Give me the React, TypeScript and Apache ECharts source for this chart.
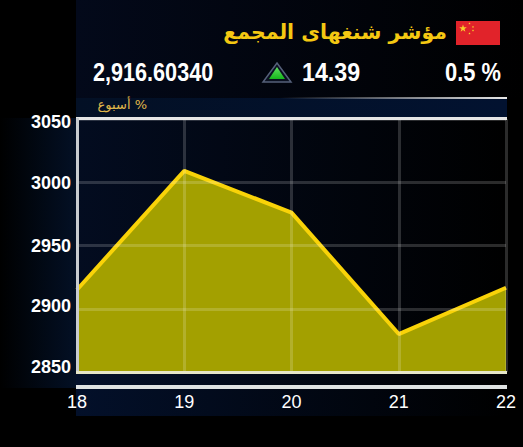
import React, { useEffect, useRef } from "react";
import * as echarts from "echarts";

const categories = ["18", "19", "20", "21", "22"];
const values = [2915, 3009, 2976, 2880, 2916.6];
const titleText = "مؤشر شنغهاى المجمع";
const weekText = "أسبوع %";
const priceText = "2,916.60340";
const changeText = "14.39";
const percentText = "0.5 %";

const NUM = '"Liberation Sans", sans-serif';
const AR = '"DejaVu Sans", sans-serif';

function star(cx: number, cy: number, r: number, rot = 0) {
  const points: number[][] = [];
  for (let i = 0; i < 10; i++) {
    const a = -Math.PI / 2 + rot + (i * Math.PI) / 5;
    const rr = i % 2 === 0 ? r : r * 0.4;
    points.push([cx + rr * Math.cos(a), cy + rr * Math.sin(a)]);
  }
  return { type: "polygon", shape: { points }, style: { fill: "#f7d02a" }, z: 3 };
}

export default function App() {
  const ref = useRef<HTMLDivElement>(null);
  useEffect(() => {
    const chart = echarts.init(ref.current!, null, { renderer: "svg" });
    const hGrad = (c0: string, c1: string) => ({
      type: "linear", x: 0, y: 0, x2: 1, y2: 0,
      colorStops: [{ offset: 0, color: c0 }, { offset: 1, color: c1 }],
    });
    const labelStyle = { color: "#ffffff", fontFamily: NUM, fontSize: 18 };
    const yLabelStyle = { ...labelStyle, fontWeight: "bold" };
    const bigText = (x: number, y: number, text: string, align: string, scaleX: number) => ({
      type: "text", z: 10, silent: true, x, y, scaleX,
      style: { x: 0, y: 0, text, align, verticalAlign: "middle", fill: "#ffffff", font: `bold 25px ${NUM}` },
    });
    chart.setOption({
      animation: false,
      backgroundColor: "#000000",
      grid: { left: 77, right: 17, top: 119, bottom: 75, containLabel: false },
      xAxis: {
        type: "category",
        data: categories,
        boundaryGap: false,
        z: 6,
        axisLine: { show: false },
        axisTick: { show: false },
        axisLabel: { ...labelStyle, margin: 21, interval: 0, showMinLabel: true, showMaxLabel: true },
        splitLine: { show: true, lineStyle: { color: "rgba(255,255,255,0.17)", width: 3 } },
      },
      yAxis: {
        type: "value",
        min: 2850,
        max: 3050,
        interval: 50,
        z: 6,
        axisLine: { show: false },
        axisTick: { show: false },
        axisLabel: {
          ...yLabelStyle,
          margin: 6,
          formatter: (v: number) => `{l${v}|${v}}`,
          rich: {
            l3050: { ...yLabelStyle, padding: [6, 0, 0, 0] },
            l3000: { ...yLabelStyle, padding: [2, 0, 0, 0] },
            l2950: { ...yLabelStyle },
            l2900: { ...yLabelStyle, padding: [0, 0, 6, 0] },
            l2850: { ...yLabelStyle, padding: [0, 0, 10, 0] },
          },
        },
        splitLine: { show: true, lineStyle: { color: "rgba(255,255,255,0.17)", width: 3 } },
      },
      series: [
        {
          type: "line",
          data: values,
          symbol: "none",
          smooth: false,
          z: 5,
          lineStyle: { color: "#f9d308", width: 4 },
          areaStyle: { color: "#a3a000", opacity: 1 },
        },
      ],
      graphic: [
        { type: "rect", z: -10, silent: true, shape: { x: 76, y: 0, width: 447, height: 98 },
          style: { fill: hGrad("#03091a", "#000000") } },
        { type: "rect", z: -10, silent: true, shape: { x: 0, y: 118, width: 76, height: 270 },
          style: { fill: hGrad("#000000", "#031025") } },
        { type: "rect", z: -10, silent: true, shape: { x: 76, y: 118, width: 430, height: 254 },
          style: { fill: hGrad("#030c20", "#000000") } },
        { type: "rect", z: -10, silent: true, shape: { x: 76, y: 372, width: 430, height: 44 },
          style: { fill: hGrad("#03102a", "#000000") } },
        { type: "rect", z: -10, silent: true, shape: { x: 76, y: 98, width: 431, height: 20 },
          style: { fill: hGrad("#031025", "#021230") } },
        { type: "rect", z: 10, silent: true, shape: { x: 280, y: 97, width: 227, height: 2 },
          style: { fill: hGrad("rgba(224,224,224,0)", "#e8e8e8") } },
        { type: "rect", z: 10, silent: true, shape: { x: 76, y: 117, width: 431, height: 3 }, style: { fill: "#e6e6e6" } },
        { type: "rect", z: 10, silent: true, shape: { x: 76, y: 118, width: 3, height: 255 }, style: { fill: "#c8ccd0" } },
        { type: "rect", z: 10, silent: true, shape: { x: 76, y: 371, width: 431, height: 3 }, style: { fill: "#e6e6c8" } },
        { type: "rect", z: 10, silent: true, shape: { x: 76, y: 385, width: 431, height: 4 }, style: { fill: "#dfe3e3" } },
        // flag
        { type: "rect", z: 2, silent: true, shape: { x: 456, y: 21, width: 44, height: 24 }, style: { fill: "#e1232a" } },
        star(463, 28.5, 4),
        star(469.5, 23.5, 1.2),
        star(473, 27, 1.2),
        star(473, 30.5, 1.2),
        star(469.5, 33.5, 1.2),
        // texts
        { type: "text", z: 10, silent: true, style: { x: 447, y: 32, text: titleText, align: "right", verticalAlign: "middle",
            fill: "#f4c812", font: `bold 20.5px ${AR}` } },
        bigText(93, 72, priceText, "left", 0.865),
        bigText(302, 72, changeText, "left", 0.93),
        bigText(501, 72, percentText, "right", 0.875),
        { type: "text", z: 10, silent: true, style: { x: 147, y: 104, text: weekText, align: "right", verticalAlign: "middle",
            fill: "#e0b84a", font: `13px ${AR}` } },
        // arrow icon
        { type: "polygon", z: 4, silent: true, shape: { points: [[277, 63], [291, 82], [263, 82]] },
          style: { fill: "#0a1020", stroke: "#55607a", lineWidth: 1.5 } },
        { type: "polygon", z: 5, silent: true, shape: { points: [[277, 67], [285, 79], [269, 79]] },
          style: { fill: { type: "linear", x: 0, y: 0, x2: 0, y2: 1,
            colorStops: [{ offset: 0, color: "#5fe05f" }, { offset: 1, color: "#16b51c" }] } } },
      ],
    });
    return () => chart.dispose();
  }, []);
  return <div ref={ref} style={{ position: "fixed", left: 0, top: 0, width: 523, height: 447 }} />;
}
